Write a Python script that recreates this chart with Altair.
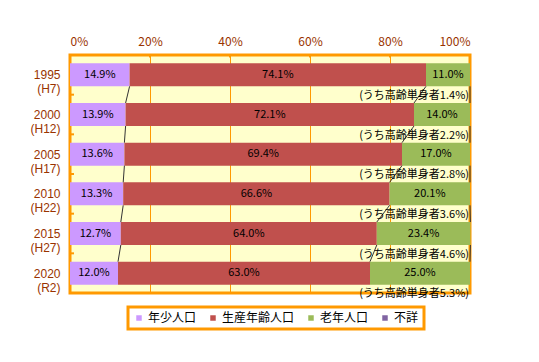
import altair as alt
import pandas as pd

years = ["1995", "2000", "2005", "2010", "2015", "2020"]
eras = ["(H7)", "(H12)", "(H17)", "(H22)", "(H27)", "(R2)"]
categories = ["年少人口", "生産年齢人口", "老年人口", "不詳"]
young = [14.9, 13.9, 13.6, 13.3, 12.7, 12.0]
working = [74.1, 72.1, 69.4, 66.6, 64.0, 63.0]
elderly = [11.0, 14.0, 17.0, 20.1, 23.4, 25.0]
unknown = [0.0, 0.0, 0.0, 0.0, 0.0, 0.0]
single_elderly = [1.4, 2.2, 2.8, 3.6, 4.6, 5.3]
colors = ["#CC99FF", "#C0504D", "#9BBB59", "#8064A2"]
x_ticks = [0, 20, 40, 60, 80, 100]

FONT = "Noto Sans CJK JP"
ORANGE = "#FF9900"
BROWN = "#993300"
HALF = 0.29  # half bar thickness in row units

# stacked segments
rows = []
cums = []
for i, yr in enumerate(years):
    vals = [young[i], working[i], elderly[i], unknown[i]]
    start = 0.0
    c = []
    for k, (cat, v) in enumerate(zip(categories, vals)):
        rows.append(dict(idx=i, year=yr, cat=cat, order=k, value=v,
                         start=start, end=start + v,
                         top=i + 0.5 - HALF, bottom=i + 0.5 + HALF, mid=i + 0.5))
        start += v
        c.append(start)
    cums.append(c)
seg = pd.DataFrame(rows)

# connector lines between consecutive bars
con = []
for i in range(len(years) - 1):
    for k in (0, 1, 2):
        con.append(dict(x=cums[i][k], x2=cums[i + 1][k],
                        y=i + 0.5 + HALF, y2=i + 1 + 0.5 - HALF))
con = pd.DataFrame(con)

ann = pd.DataFrame(dict(
    idx=list(range(len(years))),
    x=[100] * len(years),
    y=[i + 1.03 for i in range(len(years))],
    text=["(うち高齢単身者" + f"{v:.1f}" + "%)" for v in single_elderly],
))

ticks_left = pd.DataFrame(dict(y=[1, 2, 3, 4, 5], x=[0] * 5, x2=[1] * 5))
ticks_top = pd.DataFrame(dict(x=[20, 40, 60, 80], y=[0] * 4, y2=[0.06] * 4))

label_expr = "[" + ",".join(f"['{a}','{b}']" for a, b in zip(years, eras)) + "][floor(datum.value)]"

xscale = alt.Scale(domain=[0, 100], nice=False, zero=False)
yscale = alt.Scale(domain=[0, 6], reverse=True, nice=False, zero=False)

xaxis = alt.Axis(orient="top", values=x_ticks, format=".0f", labelExpr="datum.value + '%'",
                 title=None, domain=False, ticks=False, grid=True, gridColor=ORANGE,
                 gridWidth=1, labelColor=BROWN, labelFont=FONT, labelFontSize=12,
                 labelPadding=7)
yaxis = alt.Axis(values=[0.5, 1.5, 2.5, 3.5, 4.5, 5.5], labelExpr=label_expr, title=None,
                 domain=False, ticks=False, grid=False, labelColor=BROWN,
                 labelFont="Liberation Sans", labelFontSize=12, labelLineHeight=14,
                 labelPadding=10, labelAlign="right", labelBaseline="middle")

bars = alt.Chart(seg).mark_bar(stroke=None).encode(
    x=alt.X("start:Q", scale=xscale, axis=xaxis),
    x2="end:Q",
    y=alt.Y("top:Q", scale=yscale, axis=yaxis),
    y2="bottom:Q",
    color=alt.Color("cat:N", scale=alt.Scale(domain=categories, range=colors),
                    legend=alt.Legend(title=None, orient="none", legendX=58, legendY=252,
                                      direction="horizontal", symbolType="square",
                                      symbolSize=30, symbolStrokeWidth=0,
                                      labelFont=FONT, labelFontSize=12, labelColor="black",
                                      columnPadding=10, labelOffset=3, padding=5,
                                      strokeColor=ORANGE)),
)

connectors = alt.Chart(con).mark_rule(color="#333333", strokeWidth=1).encode(
    x=alt.X("x:Q", scale=xscale, axis=xaxis),
    x2="x2:Q",
    y=alt.Y("y:Q", scale=yscale, axis=yaxis),
    y2="y2:Q",
)

labels = alt.Chart(seg).transform_filter("datum.value > 0").transform_calculate(
    mx="(datum.start + datum.end) / 2",
    lbl="format(datum.value, '.1f') + '%'",
).mark_text(font=FONT, fontSize=11, color="black").encode(
    x=alt.X("mx:Q", scale=xscale, axis=xaxis),
    y=alt.Y("mid:Q", scale=yscale, axis=yaxis),
    text="lbl:N",
)

notes = alt.Chart(ann).mark_text(font=FONT, fontSize=11, color="black", align="right",
                                 baseline="middle", dx=-1).encode(
    x=alt.X("x:Q", scale=xscale, axis=xaxis),
    y=alt.Y("y:Q", scale=yscale, axis=yaxis),
    text="text:N",
)

lticks = alt.Chart(ticks_left).mark_rule(color=ORANGE, strokeWidth=2).encode(
    x=alt.X("x:Q", scale=xscale, axis=xaxis),
    x2="x2:Q",
    y=alt.Y("y:Q", scale=yscale, axis=yaxis),
)

tticks = alt.Chart(ticks_top).mark_rule(color=ORANGE, strokeWidth=2).encode(
    x=alt.X("x:Q", scale=xscale, axis=xaxis),
    y=alt.Y("y:Q", scale=yscale, axis=yaxis),
    y2="y2:Q",
)

chart = alt.layer(bars, connectors, labels, notes, lticks, tticks).properties(
    width=400, height=238,
    autosize=alt.AutoSizeParams(type="none"),
    padding={"left": 62, "top": 47, "right": 60, "bottom": 60},
    background="white",
).configure_view(
    stroke=ORANGE, strokeWidth=3, fill="#FFFFCC"
).configure_legend(
    strokeWidth=3
)

chart.save("out.html", embed_options={"renderer": "svg", "actions": False})
